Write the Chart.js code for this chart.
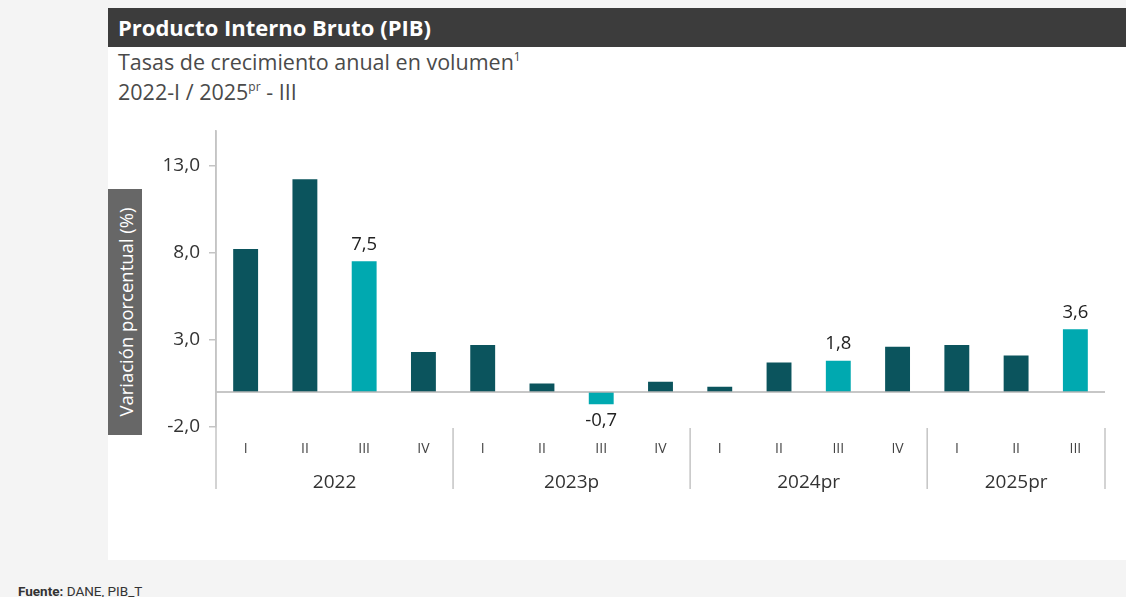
<!DOCTYPE html>
<html>
<head>
<meta charset="utf-8">
<script src="https://cdn.jsdelivr.net/npm/chart.js@4.4.1/dist/chart.umd.min.js"></script>
<style>
  html, body { margin: 0; padding: 0; }
  body { width: 1126px; height: 597px; background: #f4f4f4; position: relative; overflow: hidden; font-family: "Open Sans", sans-serif; }
  #panel { position: absolute; left: 108px; top: 8px; width: 1018px; height: 552px; background: #ffffff; }
  #titlebar { position: absolute; left: 0; top: 0; width: 1018px; height: 39px; background: #3c3c3c; color: #fff; font-weight: bold; font-size: 22px; line-height: 39px; padding-left: 10px; box-sizing: border-box; }
  .sub { position: absolute; left: 10px; color: #4a4a4a; font-size: 21.5px; white-space: nowrap; line-height: 28px; }
  .sub sup { font-size: 12px; vertical-align: 9px; line-height: 0; }
  #ytitle { position: absolute; left: 108px; top: 189px; width: 34px; height: 246px; background: #676767; }
  #ytitle span { position: absolute; left: 50%; top: 50%; transform: translate(-50%, -50%) rotate(-90deg); color: #fff; font-size: 18.5px; white-space: nowrap; }
  #wrap { position: absolute; left: 108px; top: 110px; width: 1018px; height: 440px; }
  #src { position: absolute; left: 18px; top: 583px; font-family: Roboto, sans-serif; font-size: 13.5px; color: #333; }
</style>
</head>
<body>
<div id="panel">
  <div id="titlebar">Producto Interno Bruto (PIB)</div>
  <div class="sub" style="top:40px;">Tasas de crecimiento anual en volumen<sup>1</sup></div>
  <div class="sub" style="top:70px;">2022-I / 2025<sup>pr</sup> - III</div>
</div>
<div id="wrap"><canvas id="c" width="1018" height="440"></canvas></div>
<div id="ytitle"><span>Variación porcentual (%)</span></div>
<div id="src"><b>Fuente:</b> DANE, PIB_T</div>
<script>
const quarters = ['I','II','III','IV','I','II','III','IV','I','II','III','IV','I','II','III'];
const years = ['2022','2023p','2024pr','2025pr'];
const yearCounts = [4, 4, 4, 3];
const values = [8.2, 12.2, 7.5, 2.3, 2.7, 0.5, -0.7, 0.6, 0.3, 1.7, 1.8, 2.6, 2.7, 2.1, 3.6];
const highlighted = [2, 6, 10, 14];
const yTicks = [-2, 3, 8, 13];

const DARK = '#0b545d';
const LIGHT = '#00a9b0';
const fmt = v => v.toFixed(1).replace('.', ',');

const decor = {
  id: 'decor',
  afterDatasetsDraw(chart) {
    const ctx = chart.ctx;
    const x = chart.scales.x, y = chart.scales.y, ca = chart.chartArea;
    ctx.save();
    const y0 = y.getPixelForValue(0);
    ctx.strokeStyle = '#b5b5b5';
    ctx.lineWidth = 1.5;
    ctx.beginPath(); ctx.moveTo(ca.left, y0); ctx.lineTo(ca.right, y0); ctx.stroke();
    const sepTop = ca.bottom + 1, sepBot = ca.bottom + 62;
    ctx.strokeStyle = '#c4c4c4';
    ctx.lineWidth = 1.5;
    let start = 0;
    const bounds = [ca.left];
    yearCounts.forEach((n, i) => {
      const end = start + n - 1;
      const right = end + 1 < quarters.length ? (x.getPixelForValue(end) + x.getPixelForValue(end + 1)) / 2 : ca.right;
      bounds.push(right);
      const left = bounds[i];
      ctx.fillStyle = '#333';
      ctx.font = '19px "Open Sans"';
      ctx.textAlign = 'center';
      ctx.textBaseline = 'middle';
      ctx.fillText(years[i], (left + right) / 2, ca.bottom + 56);
      start += n;
    });
    bounds.forEach((bx, i) => {
      ctx.beginPath();
      ctx.moveTo(bx, i === 0 ? ca.top : sepTop);
      ctx.lineTo(bx, sepBot);
      ctx.stroke();
    });
    const meta = chart.getDatasetMeta(0);
    ctx.fillStyle = '#222';
    ctx.font = '18.5px "Open Sans"';
    ctx.textAlign = 'center';
    ctx.textBaseline = 'middle';
    highlighted.forEach(i => {
      const el = meta.data[i];
      const v = values[i];
      const ty = v >= 0 ? el.y - 17 : el.y + 16;
      ctx.fillText(fmt(v), el.x, ty);
    });
    ctx.restore();
  }
};

new Chart(document.getElementById('c'), {
  type: 'bar',
  data: {
    labels: quarters,
    datasets: [{
      data: values,
      backgroundColor: values.map((v, i) => highlighted.includes(i) ? LIGHT : DARK),
      categoryPercentage: 1,
      barPercentage: 0.42,
      borderWidth: 0
    }]
  },
  options: {
    responsive: false,
    animation: false,
    devicePixelRatio: 1,
    layout: { padding: { top: 18, right: 21, left: 0, bottom: 0 } },
    plugins: { legend: { display: false }, tooltip: { enabled: false } },
    scales: {
      x: {
        grid: { display: false, drawTicks: false },
        border: { display: false },
        ticks: { color: '#444', font: { family: 'Open Sans', size: 14 }, padding: 14, maxRotation: 0, autoSkip: false },
        afterFit(s) { s.height = 123; }
      },
      y: {
        min: -2,
        max: 15,
        afterBuildTicks(s) { s.ticks = yTicks.map(v => ({ value: v })); },
        grid: { drawOnChartArea: false, drawTicks: true, tickLength: 7, color: '#c4c4c4', lineWidth: 1.5 },
        border: { display: true, color: '#c4c4c4', width: 1.5 },
        ticks: { color: '#333', font: { family: 'Open Sans', size: 19 }, padding: 9, callback: v => fmt(v) },
        afterFit(s) { s.width = 108; }
      }
    }
  },
  plugins: [decor]
});
</script>
</body>
</html>
